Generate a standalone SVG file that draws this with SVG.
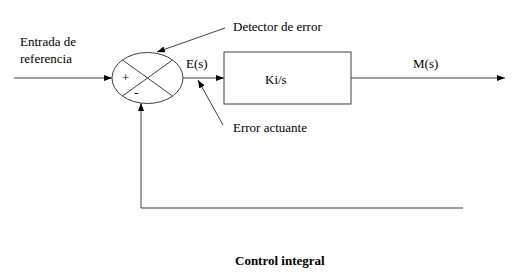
<svg xmlns="http://www.w3.org/2000/svg" width="520" height="280" viewBox="0 0 520 280">
<defs>
<style>
.ln{stroke:#404040;stroke-width:1;fill:none}
.sh{stroke:#404040;stroke-width:1;fill:#fff}
.t{font-family:"Liberation Serif","Times New Roman",serif;font-size:13px;fill:#000}
.b{font-family:"Liberation Serif","Times New Roman",serif;font-size:13px;font-weight:bold;fill:#000}
</style>
<marker id="ar" viewBox="0 0 8 6" refX="8" refY="3" markerWidth="8" markerHeight="6" markerUnits="userSpaceOnUse" orient="auto">
<path d="M0,0 L8,3 L0,6 Z" fill="#000"/>
</marker>
</defs>
<rect width="520" height="280" fill="#fff"/>
<g id="connectors">
<line class="ln" x1="14" y1="78" x2="112" y2="78" marker-end="url(#ar)"/>
<line class="ln" x1="183" y1="78" x2="224" y2="78" marker-end="url(#ar)"/>
<line class="ln" x1="351" y1="78" x2="505" y2="78" marker-end="url(#ar)"/>
<polyline class="ln" points="463,208 141,208 141,103" marker-end="url(#ar)"/>
<line class="ln" x1="225" y1="28" x2="157" y2="52" marker-end="url(#ar)"/>
<line class="ln" x1="223" y1="125" x2="198" y2="80" marker-end="url(#ar)"/>
</g>
<g id="sum">
<ellipse class="sh" cx="147.5" cy="78" rx="35.5" ry="25.5"/>
<line class="ln" x1="122.5" y1="60" x2="172.5" y2="96"/>
<line class="ln" x1="172.5" y1="60" x2="122.5" y2="96"/>
<text class="t" x="122" y="82">+</text>
<text class="t" x="134" y="97">-</text>
</g>
<g id="block">
<rect class="sh" x="224" y="52" width="127" height="52"/>
<text class="t" x="265" y="84">Ki/s</text>
</g>
<g id="labels">
<text class="t" x="20" y="46">Entrada de</text>
<text class="t" x="20" y="63">referencia</text>
<text class="t" x="186" y="68">E(s)</text>
<text class="t" x="413" y="68">M(s)</text>
<text class="t" x="233" y="31">Detector de error</text>
<text class="t" x="233" y="132">Error actuante</text>
<text class="b" x="235" y="265">Control integral</text>
</g>
</svg>
